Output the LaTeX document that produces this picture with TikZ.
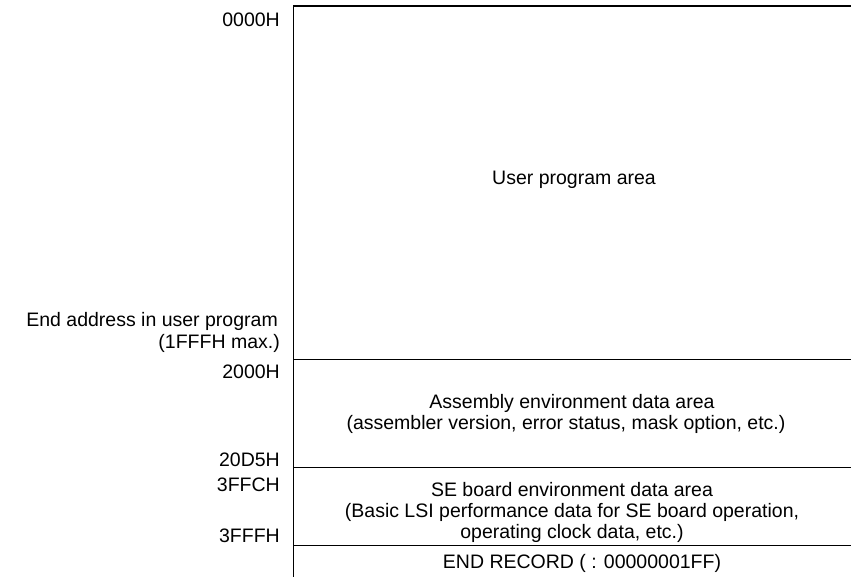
\documentclass[tikz,border=0pt]{standalone}
\usepackage{fontspec}
\setmainfont{Liberation Sans}
\begin{document}
\begin{tikzpicture}[x=1pt,y=-1pt,
  lbl/.style={inner sep=0pt,anchor=base east,font=\fontsize{19.5}{22}\selectfont},
  txt/.style={inner sep=0pt,anchor=base,font=\fontsize{19.5}{22}\selectfont},
  frame/.style={line width=1.8pt,line cap=rect},
  divider/.style={line width=1pt}]
\useasboundingbox (0,0) rectangle (851,577);
% frame corners
\coordinate (tl) at (293.5,6);
\coordinate (tr) at (851,6);
\coordinate (bl) at (293.5,577);
\coordinate (d1l) at (293.5,359);
\coordinate (d1r) at (851,359);
\coordinate (d2l) at (293.5,467.5);
\coordinate (d2r) at (851,467.5);
\coordinate (d3l) at (293.5,545);
\coordinate (d3r) at (851,545);
\draw[frame] (bl) -- (tl) -- (tr);
\draw[divider] (d1l) -- (d1r);
\draw[divider] (d2l) -- (d2r);
\draw[divider] (d3l) -- (d3r);
% address labels
\node[lbl] (a0) at (280,27) {0000H};
\node[lbl] (ea1) at (278,326) {End address in user program};
\node[lbl] (ea2) at (280,348) {(1FFFH max.)};
\node[lbl] (a2000) at (280,378) {2000H};
\node[lbl] (a20d5) at (280,466) {20D5H};
\node[lbl] (a3ffc) at (280,491) {3FFCH};
\node[lbl] (a3fff) at (280,542) {3FFFH};
% area texts
\node[txt] (user) at (574,185) {User program area};
\node[txt] (as1) at (572,408) {Assembly environment data area};
\node[txt] (as2) at (566,429) {(assembler version, error status, mask option, etc.)};
\node[txt] (se1) at (572,496) {SE board environment data area};
\node[txt] (se2) at (572,517) {(Basic LSI performance data for SE board operation,};
\node[txt] (se3) at (572,538) {operating clock data, etc.)};
\node[txt] (endr) at (582,568) {END RECORD ( : 00000001FF)};
\end{tikzpicture}
\end{document}
